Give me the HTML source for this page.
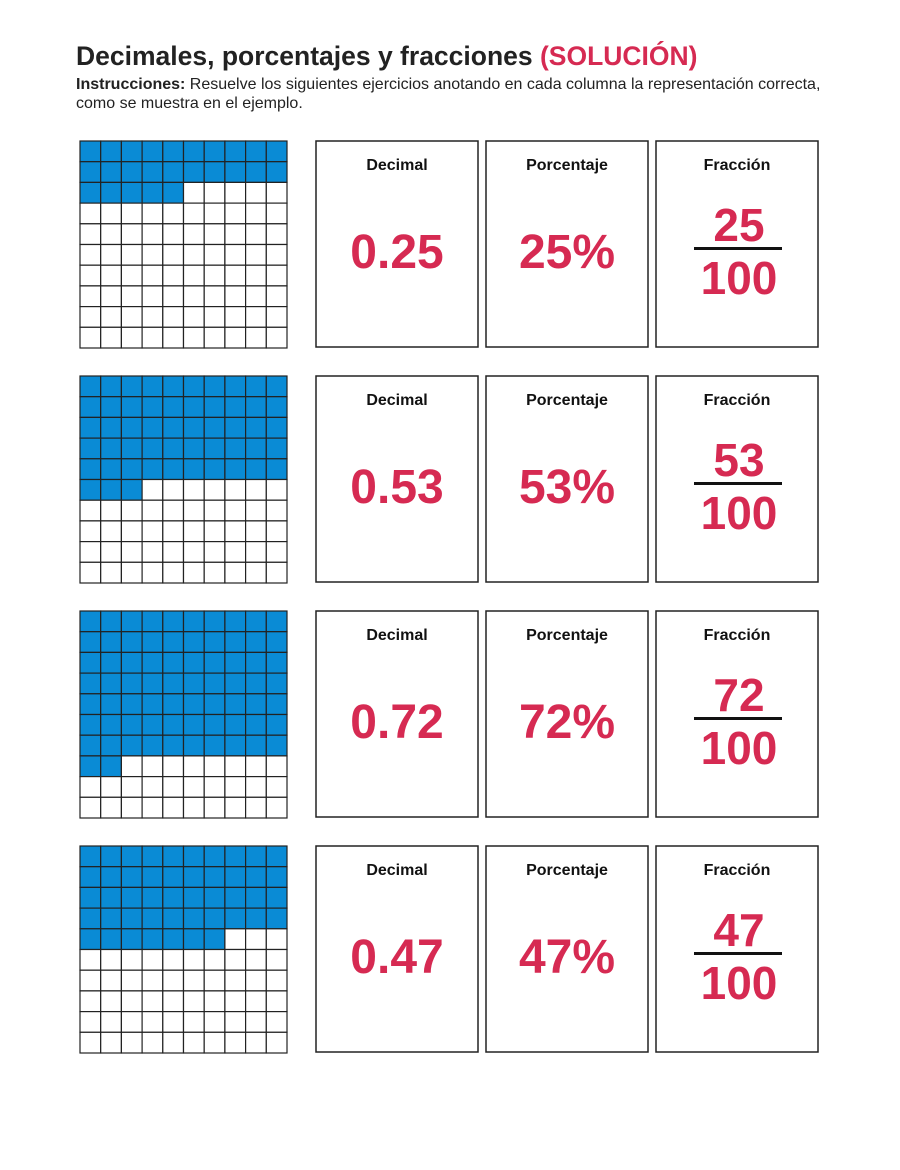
<!DOCTYPE html>
<html><head><meta charset="utf-8"><style>
body{margin:0;background:#fff;width:900px;height:1165px;overflow:hidden;font-family:"Liberation Sans",sans-serif;}
</style></head><body>
<svg width="900" height="1165" xmlns="http://www.w3.org/2000/svg" font-family="Liberation Sans, sans-serif">
<text x="76" y="65" font-size="26.5" font-weight="bold" fill="#222">Decimales, porcentajes y fracciones <tspan fill="#d62a52">(SOLUCIÓN)</tspan></text>
<text x="76" y="89" font-size="16" fill="#222"><tspan font-weight="bold">Instrucciones:</tspan> Resuelve los siguientes ejercicios anotando en cada columna la representación correcta,</text>
<text x="76" y="108" font-size="16" fill="#222">como se muestra en el ejemplo.</text>
<g id="rows"></g>
</svg>
<script>
const data=[["0.25","25%","25",25],["0.53","53%","53",53],["0.72","72%","72",72],["0.47","47%","47",47]];
const ns="http://www.w3.org/2000/svg";const g=document.getElementById("rows");
function el(t,a,txt){const e=document.createElementNS(ns,t);for(const k in a)e.setAttribute(k,a[k]);if(txt)e.textContent=txt;g.appendChild(e);return e;}
data.forEach((d,i)=>{const y0=141+235*i;const cs=20.7;
for(let r=0;r<10;r++)for(let c=0;c<10;c++){const idx=r*10+c;
el("rect",{x:80+c*cs,y:y0+r*cs,width:cs,height:cs,fill:idx<d[3]?"#0a8bd5":"#fff",stroke:"#222","stroke-width":1.2});}
const bx=[316,486,656],lab=["Decimal","Porcentaje","Fracción"];
bx.forEach((x,j)=>{el("rect",{x:x,y:y0,width:162,height:206,fill:"#fff",stroke:"#222","stroke-width":1.5});
el("text",{x:x+81,y:y0+29,"font-size":16,"font-weight":"bold","text-anchor":"middle",fill:"#111"},lab[j]);});
el("text",{x:397,y:y0+127,"font-size":48,"font-weight":"bold","text-anchor":"middle",fill:"#d62a52"},d[0]);
el("text",{x:567,y:y0+127,"font-size":48,"font-weight":"bold","text-anchor":"middle",fill:"#d62a52"},d[1]);
el("text",{x:739,y:y0+100,"font-size":46,"font-weight":"bold","text-anchor":"middle",fill:"#d62a52"},d[2]);
el("rect",{x:694,y:y0+106,width:88,height:3,fill:"#111"});
el("text",{x:739,y:y0+153,"font-size":46,"font-weight":"bold","text-anchor":"middle",fill:"#d62a52"},"100");
});
</script>
</body></html>
